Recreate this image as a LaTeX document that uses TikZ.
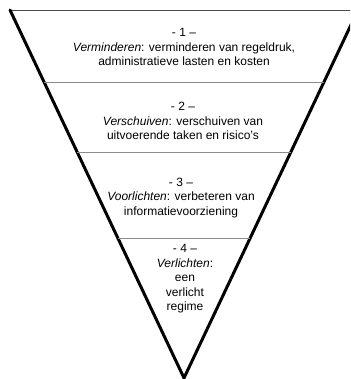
\documentclass[tikz,border=0pt]{standalone}
\usepackage{fontspec}
\setmainfont{Liberation Sans}
\usepackage{tikz}
\usetikzlibrary{calc}

\tikzset{
  stagetext/.style={align=center, font=\fontsize{12}{14.5}\selectfont, inner sep=0pt},
  divider/.style={draw=black!45, line width=0.9pt},
  funnelside/.style={draw=black, line width=3pt, line cap=round}
}

\begin{document}
\begin{tikzpicture}[x=1pt, y=-1pt]
        \useasboundingbox (0,0) rectangle (350,379);
        \clip (0,0) rectangle (350,379);

        % Funnel outline
        \coordinate (tl) at (10,10);
        \coordinate (tr) at (358,10);
        \coordinate (apex) at (184,378);
        \draw[draw=black!70, line width=0.9pt] (tl) -- (tr);
        \draw[funnelside] (tl) -- (apex) -- (tr);

        % Dividers
        \draw[divider] ($(tl)!0.198!(apex)$) -- ($(tr)!0.198!(apex)$);
        \draw[divider] ($(tl)!0.386!(apex)$) -- ($(tr)!0.386!(apex)$);
        \draw[divider] ($(tl)!0.622!(apex)$) -- ($(tr)!0.622!(apex)$);

        % Stage 1
        \node[stagetext] (s1) at (184,47) {- 1 –\\\textit{Verminderen}: verminderen van regeldruk,\\administratieve lasten en kosten};

        % Stage 2
        \node[stagetext] (s2) at (183,121) {- 2 –\\\textit{Verschuiven}: verschuiven van\\uitvoerende taken en risico's};

        % Stage 3
        \node[stagetext] (s3) at (181,198) {- 3 –\\\textit{Voorlichten}: verbeteren van\\informatievoorziening};

        % Stage 4
        \node[stagetext] (s4) at (185,279) {- 4 –\\\textit{Verlichten}:\\een\\verlicht\\regime};
    \end{tikzpicture}
\end{document}
